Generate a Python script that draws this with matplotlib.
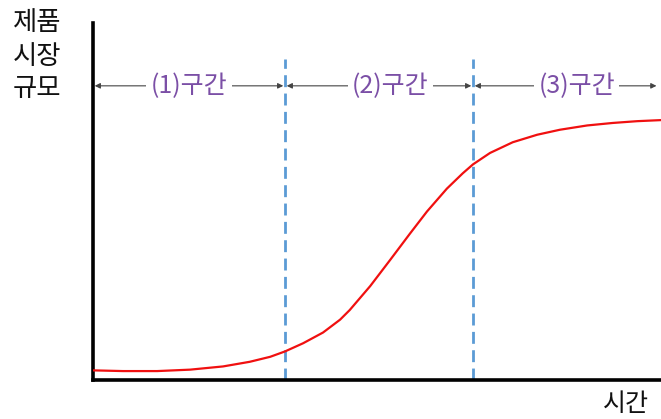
import matplotlib.pyplot as plt

plt.rcParams['font.family'] = ['Noto Sans CJK KR', 'DejaVu Sans']

# market size curve (time 0..100, size 0..100)
time = [0.0, 5.3, 11.3, 17.1, 22.9, 27.6, 31.2, 33.8, 37.0, 40.5, 43.5,
        45.2, 48.8, 52.3, 55.8, 58.8, 62.3, 65.1, 66.9, 69.9, 73.9, 78.2,
        82.2, 87.0, 91.5, 95.8, 100.0]
size = [2.7, 2.5, 2.5, 2.9, 3.8, 5.1, 6.5, 8.0, 10.3, 13.3, 16.9,
        19.6, 26.3, 33.6, 41.0, 47.2, 53.6, 57.9, 60.4, 63.6, 66.6, 68.7,
        70.1, 71.3, 72.0, 72.5, 72.8]

# stage boundaries and labels
bounds = [0, 33.8, 66.9, 99.5]
stage_labels = ['(1)구간', '(2)구간', '(3)구간']
y_labels = ['제품', '시장', '규모']

fig = plt.figure(figsize=(6.61, 4.19), dpi=100)
ax = fig.add_axes([93 / 661, 39 / 419, 568 / 661, 357 / 419])
ax.set_xlim(0, 100)
ax.set_ylim(0, 100)

for s in ['top', 'right']:
    ax.spines[s].set_visible(False)
ax.spines['left'].set_linewidth(2.6)
ax.spines['bottom'].set_linewidth(2.6)
ax.set_xticks([])
ax.set_yticks([])

# S-curve
ax.plot(time, size, color='#f01010', lw=1.6, zorder=3,
        solid_joinstyle='round')

# dashed stage boundaries
for b in bounds[1:3]:
    ax.plot([b, b], [0, 90], color='#5b9bd5', lw=2, dashes=(4.3, 2.3), zorder=2)

# arrows with stage names
arrow_y = 82.4
for i, lab in enumerate(stage_labels):
    x0, x1 = bounds[i], bounds[i + 1]
    ax.annotate('', xy=(x0 + 0.3, arrow_y), xytext=(x1 - 0.3, arrow_y),
                arrowprops=dict(arrowstyle='<|-|>', color='#444444', lw=0.8,
                                mutation_scale=8, shrinkA=0, shrinkB=0))
    ax.text((x0 + x1) / 2 + 2 * (i > 0), arrow_y, lab, color='#7b4fa6', fontsize=18,
            ha='center', va='center',
            bbox=dict(facecolor='white', edgecolor='none', pad=3))

# axis titles
for k, t in enumerate(y_labels):
    fig.text(37 / 661, 1 - (23 + 33 * k) / 419, t, fontsize=19,
             ha='center', va='center', color='#111111')
fig.text(626 / 661, 1 - 404 / 419, '시간', fontsize=18,
         ha='center', va='center', color='#111111')

fig.savefig('out.png', dpi=100)
